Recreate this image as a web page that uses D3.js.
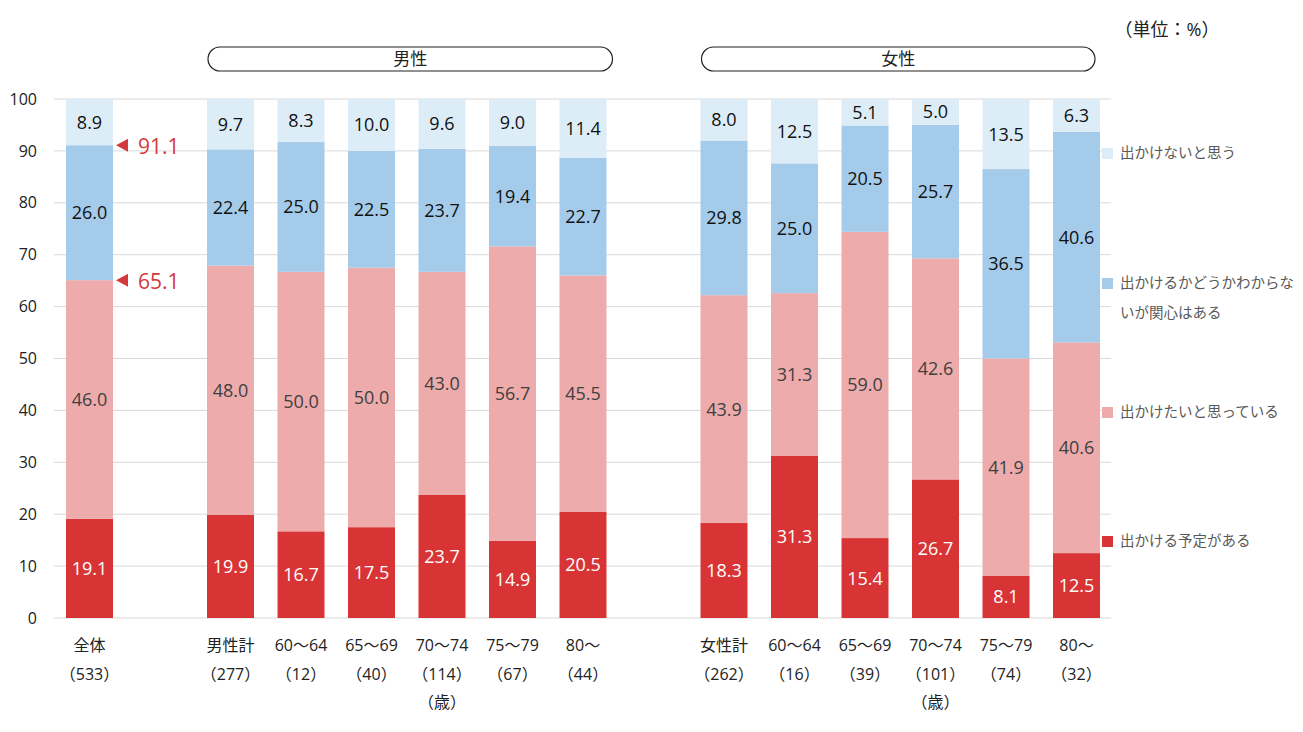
<!DOCTYPE html>
<html><head><meta charset="utf-8">
<script src="https://cdn.jsdelivr.net/npm/d3@7"></script>
<style>
body{margin:0;background:#fff;}
text{font-family:"Open Sans","Noto Sans CJK JP",sans-serif;}
</style></head>
<body><svg id="c" width="1303" height="732"></svg>
<script>
// ---- data ----
const categories = ["全体","男性計","60〜64","65〜69","70〜74","75〜79","80〜","女性計","60〜64","65〜69","70〜74","75〜79","80〜"];
const counts = ["（533）","（277）","（12）","（40）","（114）","（67）","（44）","（262）","（16）","（39）","（101）","（74）","（32）"];
const groupOf = ["all","m","m","m","m","m","m","f","f","f","f","f","f"];
const seriesNames = ["出かける予定がある","出かけたいと思っている","出かけるかどうかわからないが関心はある","出かけないと思う"];
const planned   = [19.1,19.9,16.7,17.5,23.7,14.9,20.5,18.3,31.3,15.4,26.7,8.1,12.5];
const want      = [46.0,48.0,50.0,50.0,43.0,56.7,45.5,43.9,31.3,59.0,42.6,41.9,40.6];
const interested= [26.0,22.4,25.0,22.5,23.7,19.4,22.7,29.8,25.0,20.5,25.7,36.5,40.6];
const notGo     = [8.9,9.7,8.3,10.0,9.6,9.0,11.4,8.0,12.5,5.1,5.0,13.5,6.3];
const yTicks = [0,10,20,30,40,50,60,70,80,90,100];
const annotations = [91.1,65.1];
const groupHeaders = [{key:"m",label:"男性"},{key:"f",label:"女性"}];

const colors = ["#d93435","#eeabab","#a4cbe9","#ddedf8"];
const labelColors = ["#ffffff","#404040","#111111","#111111"];

const svg = d3.select("#c");
// slots with gaps between groups
const slots = [];
categories.forEach((c,i)=>{
  if(i>0 && groupOf[i]!==groupOf[i-1]) slots.push("gap"+i);
  slots.push("c"+i);
});
const x = d3.scaleBand().domain(slots).range([54.25,1111.75]).paddingInner(1/3).paddingOuter(1/6);
const y = d3.scaleLinear().domain([0,100]).range([618,99]);
const bw = x.bandwidth();

// grid
svg.append("g").selectAll("line").data(yTicks).join("line")
  .attr("x1",54).attr("x2",1111).attr("y1",d=>y(d)).attr("y2",d=>y(d))
  .attr("stroke","#d9d9d9").attr("stroke-width",1);
// y axis labels
svg.append("g").selectAll("text").data(yTicks).join("text")
  .attr("x",37).attr("y",d=>y(d)).attr("dy","0.35em").attr("text-anchor","end")
  .attr("font-size",16).attr("fill","#222").text(d=>d);

const table = categories.map((c,i)=>({key:"c"+i, v:[planned[i],want[i],interested[i],notGo[i]]}));
const stack = d3.stack().keys([0,1,2,3]).value((d,k)=>d.v[k]);
const stacked = stack(table);

stacked.forEach((layer,k)=>{
  const g = svg.append("g");
  g.selectAll("rect").data(layer).join("rect")
    .attr("x",d=>x(d.data.key)).attr("width",bw)
    .attr("y",d=>y(Math.min(d[1],100))).attr("height",d=>y(d[0])-y(Math.min(d[1],100)))
    .attr("fill",colors[k]);
  g.selectAll("text").data(layer).join("text")
    .attr("x",d=>x(d.data.key)+bw/2).attr("y",d=>y((d[0]+Math.min(d[1],100))/2)).attr("dy","0.36em")
    .attr("text-anchor","middle").attr("font-size",18).attr("fill",labelColors[k])
    .text(d=>d.data.v[k].toFixed(1));
});

// annotations for 全体
const a0 = x("c0")+bw;
annotations.forEach(v=>{
  const yy=y(v);
  svg.append("path").attr("d",`M${a0+3},${yy} L${a0+15},${yy-6.5} L${a0+15},${yy+6.5} Z`).attr("fill","#d33a3b");
  svg.append("text").attr("x",a0+25).attr("y",yy+1).attr("dy","0.36em").attr("font-size",21)
    .attr("fill","#d33a3b").text(v.toFixed(1));
});

// category labels
categories.forEach((c,i)=>{
  const cx = x("c"+i)+bw/2;
  svg.append("text").attr("x",cx).attr("y",645).attr("dy","0.35em").attr("text-anchor","middle")
    .attr("font-size",16).attr("fill","#222").text(c);
  svg.append("text").attr("x",cx).attr("y",674).attr("dy","0.35em").attr("text-anchor","middle")
    .attr("font-size",16).attr("fill","#222").text(counts[i]);
  if(c==="70〜74"){
    svg.append("text").attr("x",cx).attr("y",702).attr("dy","0.35em").attr("text-anchor","middle")
      .attr("font-size",16).attr("fill","#222").text("（歳）");
  }
});

// group headers
groupHeaders.forEach(gh=>{
  const idx = groupOf.map((g,i)=>g===gh.key?i:-1).filter(i=>i>=0);
  const x0 = x("c"+idx[0])+1, x1 = x("c"+idx[idx.length-1])+bw+ (gh.key==="m"?6:-5);
  svg.append("rect").attr("x",x0).attr("y",47).attr("width",x1-x0).attr("height",24).attr("rx",12)
    .attr("fill","none").attr("stroke","#222").attr("stroke-width",1.2);
  svg.append("text").attr("x",(x0+x1)/2).attr("y",59).attr("dy","0.35em").attr("text-anchor","middle")
    .attr("font-size",17).attr("fill","#222").text(gh.label);
});

// unit
svg.append("text").attr("x",1167).attr("y",30).attr("dy","0.35em").attr("text-anchor","middle")
  .attr("font-size",18).attr("fill","#222").text("（単位：%）");

// legend (top to bottom: reverse order)
const legendItems = [
  {k:3, lines:["出かけないと思う"], y:153},
  {k:2, lines:["出かけるかどうかわからな","いが関心はある"], y:283},
  {k:1, lines:["出かけたいと思っている"], y:412},
  {k:0, lines:["出かける予定がある"], y:541}
];
legendItems.forEach(it=>{
  svg.append("rect").attr("x",1102).attr("y",it.y-5).attr("width",11).attr("height",11).attr("fill",colors[it.k]);
  it.lines.forEach((l,j)=>{
    svg.append("text").attr("x",1120).attr("y",it.y+j*30).attr("dy","0.35em")
      .attr("font-size",14.5).attr("fill","#595959").text(l);
  });
});
</script></body></html>
